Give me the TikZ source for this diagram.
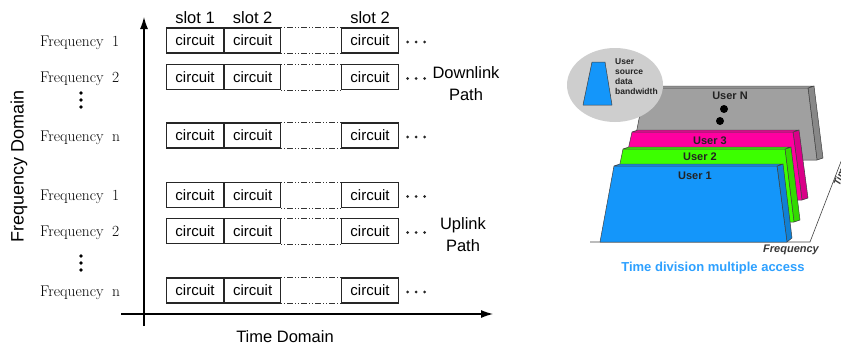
\documentclass[tikz,border=0pt]{standalone}
\usepackage{fontspec}
\newfontfamily\arialish{Liberation Sans}
\usetikzlibrary{arrows.meta,calc}

\definecolor{tdblue}{RGB}{20,150,250}
\definecolor{tdgreen}{RGB}{60,255,0}
\definecolor{tdpink}{RGB}{255,0,160}
\definecolor{tdgray}{RGB}{160,160,160}
\definecolor{tdbubble}{RGB}{206,206,206}
\definecolor{tdcaption}{RGB}{45,160,255}
\definecolor{tdink}{RGB}{35,35,35}

\begin{document}
\begin{tikzpicture}[x=1pt,y=-1pt,
  cell/.style={draw=black!85, line width=1.1pt,
    minimum width=57pt, minimum height=25pt, inner sep=0pt, anchor=west,
    font=\arialish\fontsize{15}{18}\selectfont},
  gapline/.style={line width=0.8pt, black!80,
    dash pattern=on 1pt off 2pt on 1pt off 2pt on 6pt off 2pt},
  freq/.style={font=\fontsize{15.5}{18}\selectfont, anchor=base west, inner sep=0pt},
  lbl/.style={font=\arialish\fontsize{16.5}{20}\selectfont, inner sep=0pt},
  axis/.style={line width=1.1pt, -{Latex[length=12pt,width=8pt]}},
  panel/.style={draw=black!75, line width=0.5pt, line join=round},
  userlbl/.style={font=\arialish\bfseries\fontsize{11}{13}\selectfont, text=tdink, inner sep=0pt},
]
\useasboundingbox (0,0) rectangle (841,348);

% ---------------- left: frequency / time slots ----------------
\coordinate (yb) at (144,326);
\coordinate (yt) at (144,17);
\coordinate (xl) at (121,314);
\coordinate (xr) at (493,314);
\draw[axis] (yb) -- (yt);
\draw[axis] (xl) -- (xr);

\node[lbl] (tdom) at (285,337) {Time Domain};
\node[lbl, rotate=90, font=\arialish\fontsize{18}{20}\selectfont] (fdom) at (19,166) {Frequency Domain};

\foreach \r/\y/\t in {a/40.5/1, b/77/2, c/135.5/n, d/195/1, e/231/2, f/290.5/n} {
  \node[freq] (f\r) at (40,\y+5.5) {Frequency\hspace{0.55em}\t};
  \node[cell] (c1\r) at (166,\y) {circuit};
  \node[cell, minimum width=56pt] (c2\r) at (c1\r.east) {circuit};
  \node[cell] (c3\r) at (341,\y) {circuit};
  \draw[gapline] (c2\r.north east) -- (c3\r.north west);
  \draw[gapline] (c2\r.south east) -- (c3\r.south west);
  \foreach \dx in {8.5,17,25.5}
    \fill[black!85] ($(c3\r.east)+(\dx,1.5)$) circle (1.6);
}

\node[lbl] (s1) at (c1a.north) [above=4pt, anchor=south] {slot 1};
\node[lbl] (s2) at (c2a.north) [above=4pt, anchor=south] {slot 2};
\node[lbl] (s3) at (c3a.north) [above=4pt, anchor=south] {slot 2};

% vertical ellipses between frequency rows
\foreach \yy in {100,263}
  \foreach \k in {-7,0,7}
    \fill[black] (81,\yy+\k) circle (1.9);

\node[lbl, align=center, font=\arialish\fontsize{16.5}{22}\selectfont] (down) at (466,84) {Downlink\\Path};
\node[lbl, align=center, font=\arialish\fontsize{16.5}{22}\selectfont] (up) at (463,235) {Uplink\\Path};

% ---------------- right: TDMA perspective ----------------
% ground and time axis
\coordinate (g0) at (590,242);
\coordinate (g1) at (810,242);
\coordinate (g2) at (847,146);
\draw[black!75, line width=0.6pt] (g0) -- (g1) -- (g2);
\node[font=\arialish\bfseries\itshape\fontsize{10}{12}\selectfont, text=tdink!90,
      rotate=69, anchor=base west, inner sep=0pt] (taxis) at (839.5,187) {Time};

% User N (back)
\draw[panel, fill=tdgray!85!black] (808,88) -- (814,86) -- (823,158) -- (817,160) -- cycle;
\draw[panel, fill=tdgray!90!white] (645,88) -- (651,86) -- (814,86) -- (808,88) -- cycle;
\draw[panel, fill=tdgray] (645,88) -- (808,88) -- (817,160) -- (631,160) -- cycle;
\node[userlbl] (un) at (730,96) {User N};
\fill[black] (724,109) circle (4);
\fill[black] (720,121) circle (4);

% User 3
\draw[panel, fill=tdpink!85!black] (793,132) -- (799,130) -- (808,198) -- (802,200) -- cycle;
\draw[panel, fill=tdpink] (632,132) -- (638,130) -- (799,130) -- (793,132) -- cycle;
\draw[panel, fill=tdpink] (632,132) -- (793,132) -- (802,200) -- (617,200) -- cycle;
\node[userlbl] (u3) at (710,141) {User 3};

% User 2
\draw[panel, fill=tdgreen!85!black] (785,149) -- (791,147) -- (800,220) -- (794,222) -- cycle;
\draw[panel, fill=tdgreen] (623,149) -- (629,147) -- (791,147) -- (785,149) -- cycle;
\draw[panel, fill=tdgreen] (623,149) -- (785,149) -- (794,222) -- (608,222) -- cycle;
\node[userlbl] (u2) at (700,157) {User 2};

% User 1 (front)
\draw[panel, fill=tdblue!85!black] (777,166) -- (783,164) -- (792,238) -- (787,242) -- cycle;
\draw[panel, fill=tdblue] (614,166) -- (620,164) -- (783,164) -- (777,166) -- cycle;
\draw[panel, fill=tdblue] (614,166) -- (777,166) -- (787,242) -- (600,242) -- cycle;
\node[userlbl] (u1) at (695,176) {User 1};

% legend bubble
\fill[tdbubble] (615,85) ellipse [x radius=48, y radius=37];
\draw[panel, fill=tdblue] (583,105) -- (612,105) -- (605,62) -- (592,62) -- cycle;
\node[font=\arialish\bfseries\fontsize{8.5}{10}\selectfont, text=tdink, align=left,
      anchor=north west, inner sep=0pt] (leg) at (615,58) {User\\source\\data\\bandwidth};

\node[font=\arialish\bfseries\itshape\fontsize{11}{13}\selectfont, text=tdink!90, inner sep=0pt] (fax) at (791,250) {Frequency};
\node[font=\arialish\bfseries\fontsize{13}{15}\selectfont, text=tdcaption, inner sep=0pt] (cap) at (713,268) {Time division multiple access};
\end{tikzpicture}
\end{document}
